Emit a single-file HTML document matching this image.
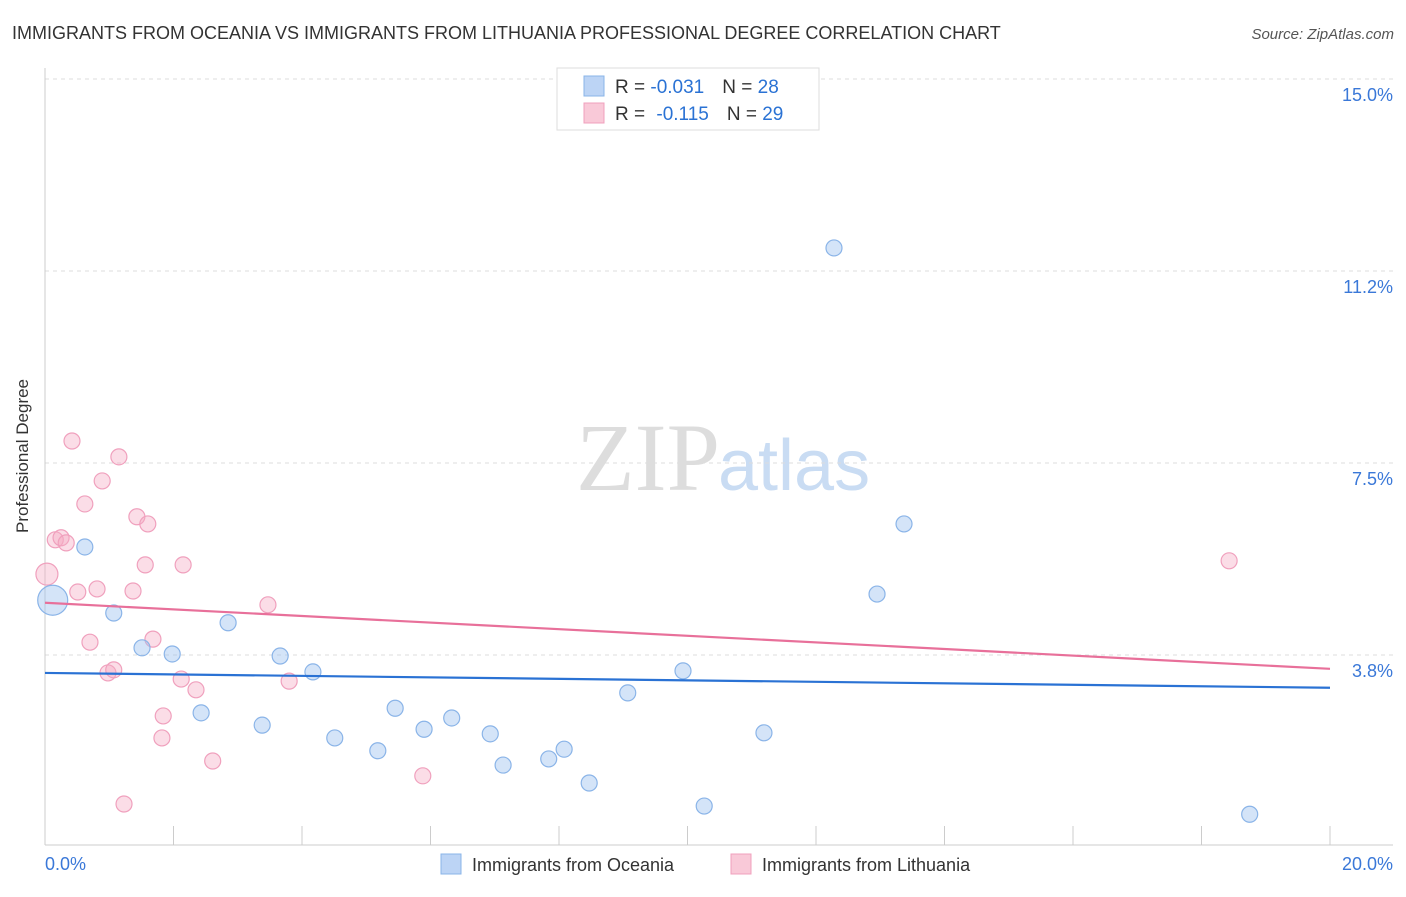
<!DOCTYPE html>
<html><head><meta charset="utf-8"><style>
body{margin:0;background:#fff;font-family:"Liberation Sans",sans-serif;}
</style></head><body>
<svg width="1406" height="892" xmlns="http://www.w3.org/2000/svg" style="font-family:'Liberation Sans',sans-serif">
<text x="12" y="39" font-size="18" fill="#333">IMMIGRANTS FROM OCEANIA VS IMMIGRANTS FROM LITHUANIA PROFESSIONAL DEGREE CORRELATION CHART</text>
<text x="1394" y="39" font-size="15" fill="#555" font-style="italic" text-anchor="end">Source: ZipAtlas.com</text>
<text x="720" y="490" font-size="96" fill="#ddd" font-family="Liberation Serif,serif" text-anchor="end">ZIP</text>
<text x="718" y="490" font-size="72" fill="#c9dcf3">atlas</text>
<g id="grid"></g>
<line x1="45" y1="68" x2="45" y2="845" stroke="#ccc"/>
<line x1="45" y1="845" x2="1393" y2="845" stroke="#ccc"/>
<text x="28" y="456" font-size="17" fill="#333" text-anchor="middle" transform="rotate(-90 28 456)">Professional Degree</text>
<text x="45" y="870" font-size="18" fill="#3a78d8">0.0%</text>
<text x="1393" y="870" font-size="18" fill="#3a78d8" text-anchor="end">20.0%</text>
<g id="marks"></g>
<g>
<rect x="557" y="68" width="262" height="62" fill="#fff" stroke="#ddd"/>
<rect x="584" y="76" width="20" height="20" fill="#bcd4f5" stroke="#8ab4e8"/>
<rect x="584" y="103" width="20" height="20" fill="#f9c9d8" stroke="#f0a0bd"/>
<text x="615" y="93" font-size="19" fill="#333">R = <tspan fill="#2a72d4">-0.031</tspan><tspan dx="18">N = </tspan><tspan fill="#2a72d4">28</tspan></text>
<text x="615" y="120" font-size="19" fill="#333">R = <tspan fill="#2a72d4" dx="6">-0.115</tspan><tspan dx="18">N = </tspan><tspan fill="#2a72d4">29</tspan></text>
</g>
<g>
<rect x="441" y="854" width="20" height="20" fill="#bcd4f5" stroke="#8ab4e8"/>
<text x="472" y="871" font-size="18" fill="#333">Immigrants from Oceania</text>
<rect x="731" y="854" width="20" height="20" fill="#f9c9d8" stroke="#f0a0bd"/>
<text x="762" y="871" font-size="18" fill="#333">Immigrants from Lithuania</text>
</g>
</svg>
<script>
const yTicks=[3.8,7.5,11.2,15.0];
const yTickVals=[3.75,7.5,11.25,15];
const xTicks=[0,2,4,6,8,10,12,14,16,18,20];
const oceaniaX=[0.12,0.62,1.07,1.51,1.98,2.43,2.85,3.38,3.66,4.17,4.51,5.18,5.45,5.90,6.33,6.93,7.13,7.84,8.08,8.47,9.07,9.93,10.26,11.19,12.28,12.95,13.37,18.75];
const oceaniaY=[4.82,5.86,4.57,3.89,3.77,2.62,4.38,2.38,3.73,3.42,2.13,1.88,2.71,2.30,2.52,2.21,1.60,1.72,1.91,1.25,3.01,3.44,0.80,2.23,11.70,4.94,6.31,0.64];
const lithX=[0.03,0.42,0.62,0.89,1.15,0.16,0.25,0.33,0.51,0.70,0.81,0.98,1.07,1.37,1.43,1.60,1.56,1.68,1.84,1.82,2.12,2.15,2.35,2.61,1.23,3.47,3.80,5.88,18.43];
const lithY=[5.33,7.93,6.70,7.15,7.62,6.00,6.04,5.94,4.98,4.00,5.04,3.40,3.46,5.00,6.45,6.31,5.51,4.06,2.56,2.13,3.28,5.51,3.07,1.68,0.84,4.73,3.24,1.39,5.59];
const oceaniaTrend=[3.40,3.11];
const lithTrend=[4.77,3.48];
const NS='http://www.w3.org/2000/svg';
const xs=v=>45+v*64.25, ys=v=>847-v*51.2;
const grid=document.getElementById('grid'), marks=document.getElementById('marks');
function mk(tag,attrs,parent){const e=document.createElementNS(NS,tag);for(const k in attrs)e.setAttribute(k,attrs[k]);parent.appendChild(e);return e;}
yTickVals.forEach((v,i)=>{
 const l=mk('line',{x1:45,x2:1393,y1:ys(v),y2:ys(v),stroke:'#ddd','stroke-dasharray':'4,4'},grid);
 
 
 const t=mk('text',{x:1393,y:ys(v)+22,'font-size':18,fill:'#3a78d8','text-anchor':'end'},grid);
 t.textContent=yTicks[i].toFixed(1)+'%';
 
 
});
xTicks.forEach(v=>{
 const l=mk('line',{x1:xs(v),x2:xs(v),y1:826,y2:845,stroke:'#ccc'},grid);
 
 
});
function pts(X,Y,fill,stroke,name){
 X.forEach((x,i)=>{
  const r=(i===0)?(name==='oceania-point'?15:11):8;
  const c=mk('circle',{cx:xs(x),cy:ys(Y[i]),r:r,fill:fill,stroke:stroke,'stroke-width':1.2},marks);
  
  
 });
}
pts(lithX,lithY,'rgba(245,170,195,0.4)','#f0a0bd','lithuania-point');
pts(oceaniaX,oceaniaY,'rgba(160,195,240,0.45)','#8ab4e8','oceania-point');
const l1=mk('line',{x1:xs(0),x2:xs(20),y1:ys(oceaniaTrend[0]),y2:ys(oceaniaTrend[1]),stroke:'#2a72d4','stroke-width':2.2},marks);


const l2=mk('line',{x1:xs(0),x2:xs(20),y1:ys(lithTrend[0]),y2:ys(lithTrend[1]),stroke:'#e8709a','stroke-width':2.2},marks);


</script>
</body></html>
